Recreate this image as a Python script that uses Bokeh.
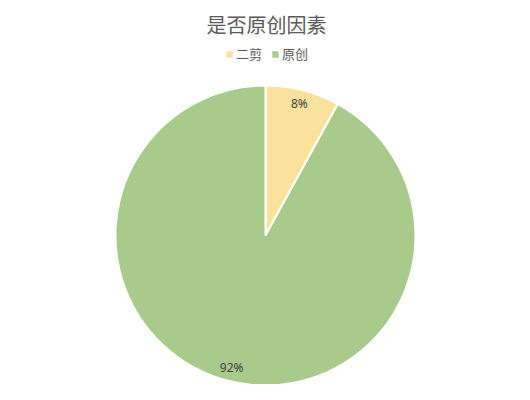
import math
from bokeh.plotting import figure
from bokeh.models import ColumnDataSource, Legend, LegendItem, Range1d
from bokeh.core.properties import value
from bokeh.embed import file_html
from bokeh.resources import INLINE

# ---- data ----
title_text = "是否原创因素"
categories = ["二剪", "原创"]
values = [8, 92]
colors = ["#FAE29C", "#A8CB8C"]

W, H = 514, 384
p = figure(width=W, height=H, output_backend="svg", toolbar_location=None,
           x_range=Range1d(0, W), y_range=Range1d(0, H), min_border=0,
           background_fill_color="white", border_fill_color="white",
           outline_line_color=None)
p.axis.visible = False
p.grid.visible = False

cx, cy, r = 265, 149, 150
total = sum(values)
starts, ends, mids, labels = [], [], [], []
cum = 0
for v in values:
    s = math.pi / 2 - cum / total * 2 * math.pi
    cum += v
    e = math.pi / 2 - cum / total * 2 * math.pi
    starts.append(s)
    ends.append(e)
    mids.append((s + e) / 2)
    labels.append(f"{round(v / total * 100)}%")

src = ColumnDataSource(dict(cat=categories, val=values, start=starts, end=ends, color=colors))
p.wedge(x=cx, y=cy, radius=r, start_angle="start", end_angle="end", direction="clock",
        fill_color="color", line_color="white", line_width=2, source=src)

lr = 136
lsrc = ColumnDataSource(dict(
    x=[cx + lr * math.cos(m) for m in mids],
    y=[cy + lr * math.sin(m) for m in mids],
    t=labels))
p.text(x="x", y="y", text="t", source=lsrc, text_align="center", text_baseline="middle",
       text_font=value("Noto Sans"), text_font_size="12px", text_color="#404040")

# title
p.text(x=[266], y=[H - 24], text=[title_text], text_align="center", text_baseline="middle",
       text_font=value("Noto Sans CJK SC"), text_font_size="20px", text_color="#595959")

# legend
items = []
for c, col in zip(categories, colors):
    rr = p.quad(left=[-100], right=[-99], bottom=[-100], top=[-99], fill_color=col, line_color=None)
    items.append(LegendItem(label=c, renderers=[rr]))
leg = Legend(items=items, orientation="horizontal", location=(225, 321),
             border_line_color=None, background_fill_alpha=0, padding=0, margin=0,
             spacing=9, label_standoff=3, glyph_width=8, glyph_height=8, label_height=14,
             label_text_font="Noto Sans CJK SC", label_text_font_size="13px",
             label_text_color="#595959")
p.add_layout(leg, "center")

open("out.html", "w").write(file_html(p, INLINE))
